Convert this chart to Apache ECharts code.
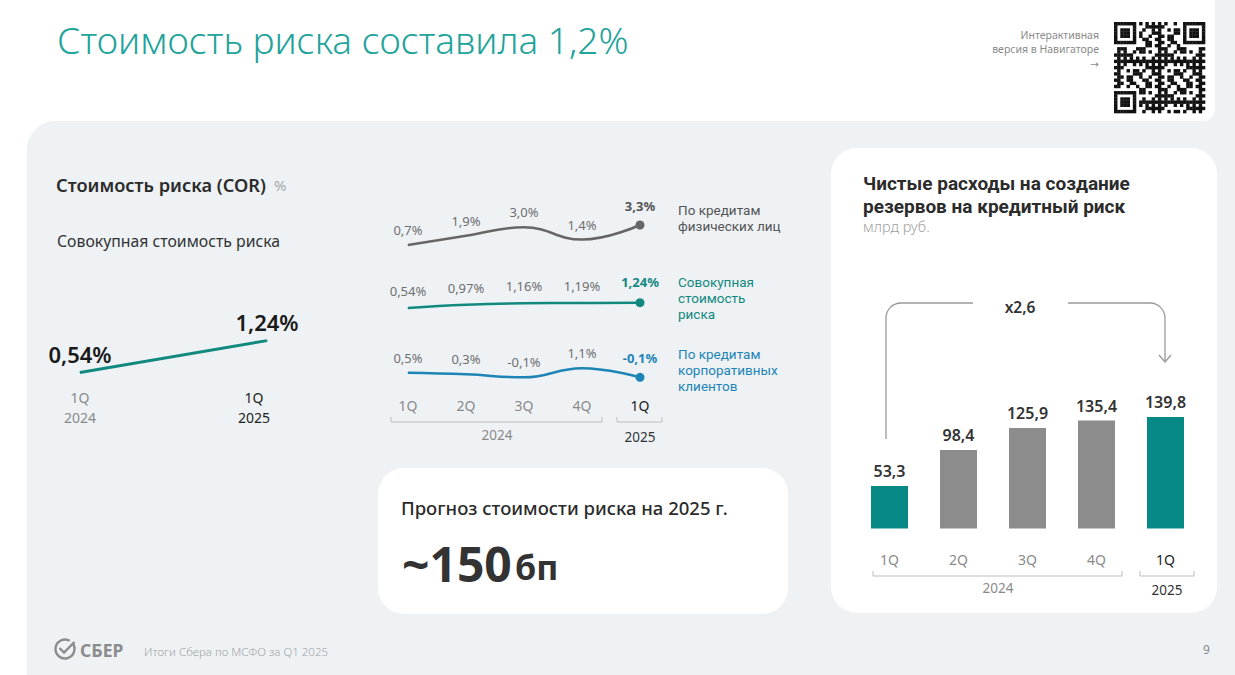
<!DOCTYPE html>
<html><head><meta charset="utf-8">
<script src="https://cdn.jsdelivr.net/npm/echarts@6/dist/echarts.min.js"></script>
<style>html,body{margin:0;padding:0;background:#fff;}#c{width:1235px;height:675px;}</style>
</head><body><div id="c"></div>
<script>
// ---- data ----
const corCats = ['1Q\n2024', '1Q\n2025'];
const corValues = [0.54, 1.24];
const qCats = ['1Q', '2Q', '3Q', '4Q', '1Q'];
const retailCor = [0.7, 1.9, 3.0, 1.4, 3.3];
const totalCor = [0.54, 0.97, 1.16, 1.19, 1.24];
const corpCor = [0.5, 0.3, -0.1, 1.1, -0.1];
const seriesNames = ['По кредитам\nфизических лиц', 'Совокупная\nстоимость\nриска', 'По кредитам\nкорпоративных\nклиентов'];
const provisions = [53.3, 98.4, 125.9, 135.4, 139.8];
const years = ['2024', '2025'];

const FONT = "'Noto Sans', 'DejaVu Sans', sans-serif";
const FONT2 = "Roboto, 'Noto Sans', sans-serif";
const TEAL = '#12897f', BLUE = '#1e84b5', GREY_LINE = '#666666', BAR_TEAL = '#078a85', BAR_GREY = '#8c8c8c';
const fmt = (v, d) => v.toFixed(d).replace('.', ',');

function lineData(vals, dec, color) {
  return vals.map((v, i) => {
    const last = i === vals.length - 1;
    return {
      value: v,
      symbolSize: last ? 9 : 1,
      label: last ? { fontWeight: 'bold', color: color === GREY_LINE ? '#555' : color } : {}
    };
  });
}
function lineSeries(idx, vals, dec, color, dist) {
  return {
    type: 'line', xAxisIndex: idx, yAxisIndex: idx, smooth: 0.45, z: 6,
    data: lineData(vals, dec, color), symbol: 'circle',
    lineStyle: { color, width: 2.5 }, itemStyle: { color },
    label: { show: true, position: 'top', distance: dist, fontFamily: FONT, fontSize: 13, color: '#6f6f6f',
      formatter: p => fmt(p.value, dec) + '%' }
  };
}

// QR-like decoration
function qrGraphic() {
  const els = []; const n = 29, x0 = 1114, y0 = 22, s = 91 / n;
  const finder = (i, j) => {
    const f = [[0, 0], [0, n - 7], [n - 7, 0]];
    for (const [a, b] of f) {
      const r = i - a, c = j - b;
      if (r >= 0 && r < 7 && c >= 0 && c < 7) {
        const ring = Math.min(r, c, 6 - r, 6 - c);
        return ring === 1 ? 0 : 1;
      }
      if (r >= -1 && r <= 7 && c >= -1 && c <= 7) return 0;
    }
    return -1;
  };
  for (let i = 0; i < n; i++) for (let j = 0; j < n; j++) {
    let b = finder(i, j);
    if (b === -1) b = (((i * 131 + 7) * (j * 71 + 3) + i * 17 + j * 29) % 13) < 6 ? 1 : 0;
    if (b) els.push({ type: 'rect', z: 5, shape: { x: x0 + j * s, y: y0 + i * s, width: s + 0.3, height: s + 0.3 }, style: { fill: '#111' } });
  }
  return els;
}

function txt(text, x, y, o) {
  return { type: 'text', z: 20, style: Object.assign({ text, x, y, fontFamily: FONT, fontSize: 14, fill: '#333', align: 'left', verticalAlign: 'middle' }, o || {}) };
}
function bracket(x1, x2, y) {
  return { type: 'polyline', z: 5, shape: { points: [[x1, y - 5], [x1, y], [x2, y], [x2, y - 5]] }, style: { stroke: '#b9bec2', lineWidth: 1, fill: null } };
}
const ARROW = { stroke: '#9a9a9a', lineWidth: 1.3, fill: null };
const LOGO = { stroke: '#8c8c8c', lineWidth: 2.4, fill: null };
const NAME = { fontFamily: FONT2, fontSize: 13.5, lineHeight: 15.9 };

const graphic = [
  { type: 'rect', z: 0, shape: { x: 1205, y: 0, width: 40, height: 140 }, style: { fill: '#eef2f5' } },
  { type: 'rect', z: 0, shape: { x: 27, y: 121, width: 1230, height: 570, r: [28, 0, 0, 0] }, style: { fill: '#eef2f5' } },
  { type: 'rect', z: 1, shape: { x: 0, y: 0, width: 1215, height: 121, r: [0, 0, 12, 0] }, style: { fill: '#ffffff' } },
  { type: 'rect', z: 1, shape: { x: 0, y: 100, width: 27, height: 600 }, style: { fill: '#ffffff' } },
  { type: 'rect', z: 1, shape: { x: 831, y: 148, width: 386, height: 465, r: 26 }, style: { fill: '#ffffff' } },
  { type: 'rect', z: 1, shape: { x: 378, y: 468, width: 410, height: 146, r: 26 }, style: { fill: '#ffffff' } },
  txt('Стоимость риска составила 1,2%', 57, 39, { fontSize: 37, fontWeight: 300, fill: '#22a39b' }),
  txt('Интерактивная\nверсия в Навигаторе\n→', 1099, 49, { fontSize: 10.5, fill: '#8a8a8a', align: 'right', lineHeight: 14.5 }),
  txt('Стоимость риска (COR)', 56, 185, { fontSize: 18.2, fontWeight: 600, fill: '#2b2b2b' }),
  txt('%', 274, 185, { fontSize: 15, fill: '#a8a8a8' }),
  txt('Совокупная стоимость риска', 57, 241, { fontSize: 15.8, fill: '#333' }),
  txt(seriesNames[0], 678, 218, Object.assign({ fill: '#555' }, NAME)),
  txt(seriesNames[1], 678, 298, Object.assign({ fill: TEAL }, NAME)),
  txt(seriesNames[2], 678, 370, Object.assign({ fill: BLUE }, NAME)),
  bracket(391, 602, 422), bracket(617, 662, 422),
  txt(years[0], 497, 435, { fontSize: 13.5, fill: '#8a8a8a', align: 'center' }),
  txt(years[1], 640, 437, { fontSize: 13.5, fill: '#333', align: 'center' }),
  txt('Прогноз стоимости риска на 2025 г.', 401, 507, { fontSize: 18.5, fontWeight: 500, fill: '#2b2b2b' }),
  txt('~150', 402, 563, { fontSize: 48, fontWeight: 700, fill: '#333' }),
  txt('бп', 515, 567, { fontSize: 34, fontWeight: 700, fill: '#333' }),
  txt('Чистые расходы на создание\nрезервов на кредитный риск', 863, 195, { fontFamily: FONT2, fontSize: 19, fontWeight: 'bold', fill: '#2b2b2b', lineHeight: 22.4 }),
  txt('млрд руб.', 863, 226, { fontSize: 14.5, fontWeight: 300, fill: '#a0a0a0' }),
  { type: 'polyline', z: 5, shape: { points: [[886, 439], [886, 318]] }, style: ARROW },
  { type: 'arc', z: 5, shape: { cx: 901, cy: 318, r: 15, startAngle: Math.PI, endAngle: Math.PI * 1.5, clockwise: true }, style: ARROW },
  { type: 'polyline', z: 5, shape: { points: [[901, 303], [973, 303]] }, style: ARROW },
  { type: 'polyline', z: 5, shape: { points: [[1068, 303], [1150, 303]] }, style: ARROW },
  { type: 'arc', z: 5, shape: { cx: 1150, cy: 318, r: 15, startAngle: -Math.PI / 2, endAngle: 0, clockwise: true }, style: ARROW },
  { type: 'polyline', z: 5, shape: { points: [[1165, 318], [1165, 362]] }, style: ARROW },
  { type: 'polyline', z: 5, shape: { points: [[1159, 355], [1165, 362], [1171, 355]] }, style: ARROW },
  txt('x2,6', 1020, 307, { fontSize: 15.5, fontWeight: 600, fill: '#333', align: 'center' }),
  bracket(873, 1122, 576), bracket(1140, 1194, 576),
  txt(years[0], 998, 588, { fontSize: 13.5, fill: '#8a8a8a', align: 'center' }),
  txt(years[1], 1167, 590, { fontSize: 13.5, fill: '#333', align: 'center' }),
  { type: 'arc', z: 5, shape: { cx: 65, cy: 649, r: 9.5, startAngle: -0.7, endAngle: 5.24, clockwise: true }, style: LOGO },
  { type: 'polyline', z: 5, shape: { points: [[59.5, 648], [64, 652.5], [74.5, 642]] }, style: LOGO },
  txt('СБЕР', 80, 650, { fontSize: 17.5, fontWeight: 700, fill: '#8c8c8c' }),
  txt('Итоги Сбера по МСФО за Q1 2025', 144, 651, { fontSize: 11.5, fontWeight: 300, fill: '#a3a3a3' }),
  txt('9', 1203, 649, { fontSize: 12, fill: '#8a8a8a' })
].concat(qrGraphic());

const hidY = (i, min, max) => ({ type: 'value', gridIndex: i, min, max, show: false });
const catX = (i, data, show, margin, colorFn, bg) => ({
  type: 'category', gridIndex: i, data, boundaryGap: bg, z: 10,
  axisLine: { show: false }, axisTick: { show: false }, splitLine: { show: false },
  axisLabel: { show, margin, fontFamily: FONT, fontSize: 14, lineHeight: 18, color: colorFn, interval: 0 }
});
const lastDark = (v, i) => (i === qCats.length - 1 ? '#222' : '#8a8a8a');

const corAxis = catX(0, corCats, true, 0, null, false);
corAxis.axisLabel.formatter = (v, i) => v.split('\n').map(s => (i === 1 ? '{b|' : '{a|') + s + '}').join('\n');
corAxis.axisLabel.rich = {
  a: { fontFamily: FONT, fontSize: 14, lineHeight: 19.5, color: '#8a8a8a' },
  b: { fontFamily: FONT, fontSize: 14, lineHeight: 19.5, color: '#222', padding: [0, 26, 0, 0] }
};

const option = {
  animation: false,
  backgroundColor: 'transparent',
  graphic,
  grid: [
    { left: 80, top: 306, width: 187, height: 82 },
    { left: 408, top: 219.6, width: 232, height: 30.8 },
    { left: 408, top: 296.8, width: 232, height: 15.4 },
    { left: 408, top: 361.2, width: 232, height: 23.1 },
    { left: 855, top: 408.9, width: 345, height: 119.6 }
  ],
  xAxis: [
    corAxis,
    catX(1, qCats, false, 0, null, false),
    catX(2, qCats, false, 0, null, false),
    catX(3, qCats, true, 12, lastDark, false),
    catX(4, qCats, true, 22, lastDark, true)
  ],
  yAxis: [hidY(0, 0.2, 2), hidY(1, 0, 4), hidY(2, 0, 2), hidY(3, -1, 2), hidY(4, 0, 150)],
  series: [
    {
      type: 'line', xAxisIndex: 0, yAxisIndex: 0, data: corValues, symbol: 'circle', symbolSize: 1, z: 6,
      lineStyle: { color: TEAL, width: 3 }, itemStyle: { color: TEAL },
      label: { show: true, position: 'top', distance: 7, fontFamily: FONT, fontSize: 22, fontWeight: 600, color: '#1a1a1a',
        formatter: p => fmt(p.value, 2) + '%' }
    },
    lineSeries(1, retailCor, 1, GREY_LINE, 8),
    lineSeries(2, totalCor, 2, TEAL, 10),
    lineSeries(3, corpCor, 1, BLUE, 8),
    {
      type: 'bar', xAxisIndex: 4, yAxisIndex: 4, barWidth: 37, z: 6,
      data: provisions.map((v, i) => ({ value: v, itemStyle: { color: (i === 0 || i === provisions.length - 1) ? BAR_TEAL : BAR_GREY } })),
      label: { show: true, position: 'top', distance: 7, fontFamily: FONT, fontSize: 16, fontWeight: 600, color: '#333',
        formatter: p => fmt(p.value, 1) }
    }
  ]
};
const chart = echarts.init(document.getElementById('c'), null, { renderer: 'svg' });
chart.setOption(option);
</script></body></html>
